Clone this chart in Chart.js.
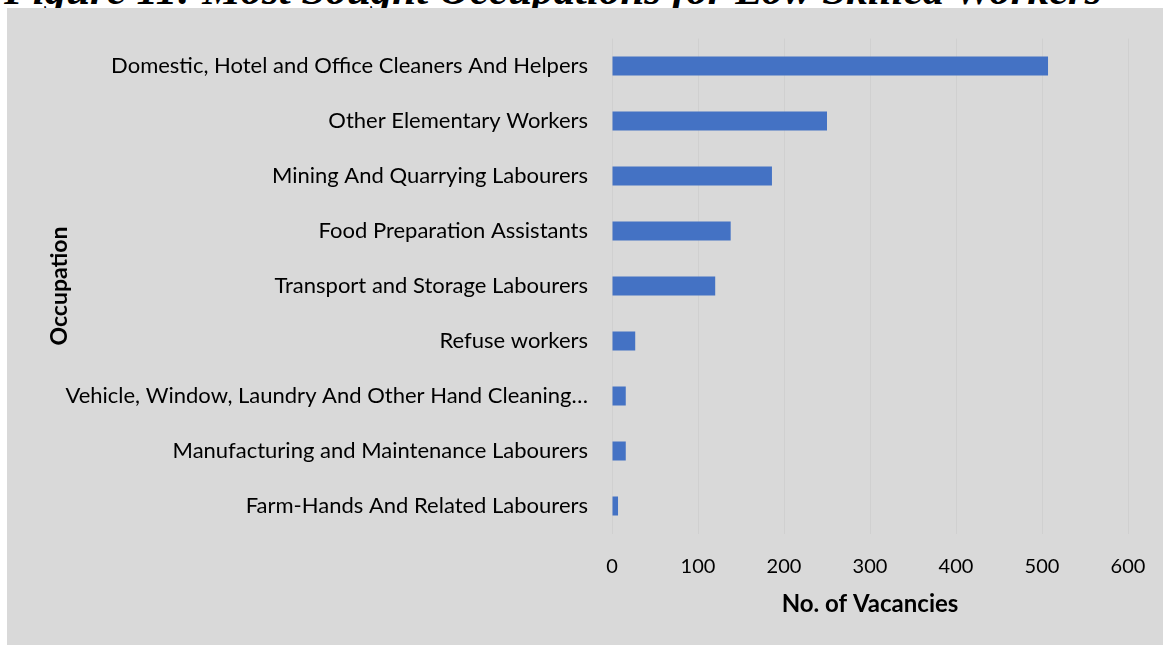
<!DOCTYPE html>
<html>
<head>
<meta charset="utf-8">
<script src="https://cdn.jsdelivr.net/npm/chart.js@4"></script>
<style>
  html, body { margin: 0; padding: 0; background: #ffffff; overflow: hidden; }
  body { width: 1163px; height: 645px; position: relative; }
  .figTitle {
    position: absolute; left: 4px; top: -32.5px; white-space: nowrap;
    font-family: "Liberation Serif", serif; font-weight: bold; font-style: italic;
    font-size: 43px; line-height: 43px; color: #000;
  }
  .panel { position: absolute; left: 7px; top: 8px; width: 1156px; height: 637px; background: #d9d9d9; }
</style>
</head>
<body>
<div class="figTitle">Figure 11: Most Sought Occupations for Low Skilled Workers</div>
<div class="panel"><canvas id="occChart" width="1156" height="637"></canvas></div>
<script>
// occupations, top to bottom as in the figure
let occupations = [
  "Domestic, Hotel and Office Cleaners And Helpers",
  "Other Elementary Workers",
  "Mining And Quarrying Labourers",
  "Food Preparation Assistants",
  "Transport and Storage Labourers",
  "Refuse workers",
  "Vehicle, Window, Laundry And Other Hand Cleaning\u2026",
  "Manufacturing and Maintenance Labourers",
  "Farm-Hands And Related Labourers"
];

// number of vacancies for each occupation
let vacancies = [507, 250, 186, 138, 120, 27, 16, 16, 7];

// x axis ticks
let xTicks = [0, 100, 200, 300, 400, 500, 600];

try {
  let ctx = document.getElementById("occChart").getContext("2d");

  new Chart(ctx, {
    type: "bar",
    data: {
      labels: occupations,
      datasets: [
        {
          label: "No. of Vacancies",
          data: vacancies,
          backgroundColor: "#4472c4",
          borderWidth: 0,
          categoryPercentage: 1,
          barPercentage: 0.345,
        },
      ],
    },
    options: {
      indexAxis: "y",
      responsive: false,
      animation: false,
      layout: { padding: { left: 35.2, top: 30.5, right: 35, bottom: 22.6 } },
      plugins: {
        legend: { display: false },
        tooltip: { enabled: false },
      },
      scales: {
        x: {
          min: xTicks[0],
          max: xTicks[xTicks.length - 1],
          afterBuildTicks: function (scale) {
            scale.ticks = xTicks.map(function (v) { return { value: v }; });
          },
          afterFit: function (scale) {
            scale.height = 88.9;
            scale.paddingLeft = 0;
            scale.paddingRight = 0;
          },
          grid: { color: "#d0d0d0", drawTicks: false, lineWidth: 1 },
          border: { display: false },
          ticks: { color: "#000", font: { family: "Lato", size: 20 }, padding: 21, maxRotation: 0 },
          title: { display: true, text: "No. of Vacancies", color: "#000", font: { family: "Lato", size: 24, weight: "bold" }, padding: 4 },
        },
        y: {
          afterFit: function (scale) {
            scale.width = 569.8;
            scale.paddingTop = 0;
            scale.paddingBottom = 0;
          },
          grid: { display: false, drawTicks: false },
          border: { display: false },
          ticks: { color: "#000", font: { family: "Lato", size: 22 }, padding: 24, autoSkip: false },
          title: { display: true, text: "Occupation", color: "#000", font: { family: "Lato", size: 23, weight: "bold" }, padding: 4 },
        },
      },
    },
  });
} catch (error) {
  console.log("while creating the chart:", error);
}
</script>
</body>
</html>
